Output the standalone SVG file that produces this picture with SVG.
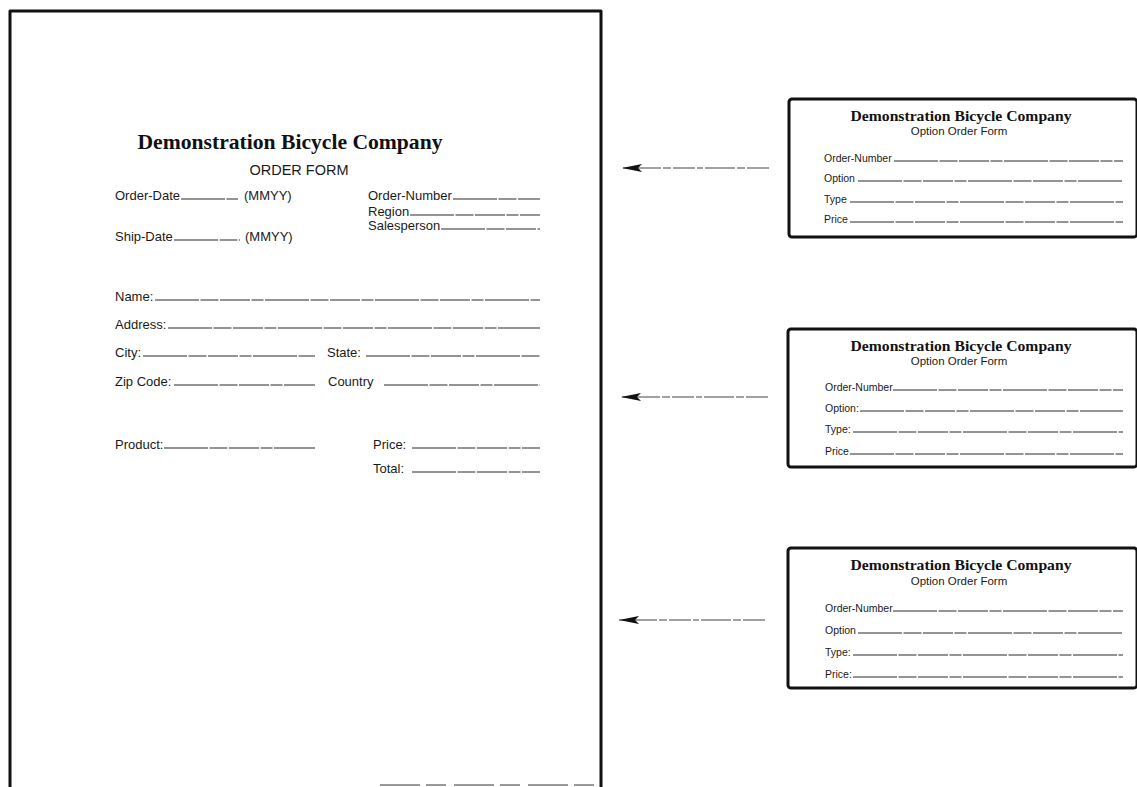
<svg xmlns="http://www.w3.org/2000/svg" width="1137" height="787" viewBox="0 0 1137 787">
<style>
.frame{fill:none;stroke:#111;stroke-width:3;stroke-linejoin:round}
.ttl{font-family:"Liberation Serif",serif;font-weight:bold;fill:#111;text-anchor:middle}
.sans{font-family:"Liberation Sans",Arial,sans-serif;fill:#1a1a1a}
.lbl{font-size:13px}
.blbl{font-size:10.5px}
.fld{stroke:#2a2a2a;stroke-width:1.1;stroke-dasharray:44 1.5 18 1.5 30 1.5 12 1.5}
.conn{stroke:#444;stroke-width:1.2;stroke-dasharray:22 2 8 2 30 2 6 2;fill:none}
</style>
<defs>
<marker id="ah" viewBox="0 0 20 8" refX="20" refY="4" markerWidth="20" markerHeight="8" markerUnits="userSpaceOnUse" orient="auto">
<path d="M0,0 L20,4 L0,8 L4,4 z" fill="#111"/>
</marker>
</defs>
<rect width="1137" height="787" fill="#fff"/>

<g id="order-form">
<path class="frame" d="M10,787 L10,11 L601,11 L601,787"/>
<line x1="380" y1="785" x2="601" y2="785" stroke="#999" stroke-width="2" stroke-dasharray="40 6 20 8"/>
<text class="ttl" x="290" y="149" font-size="21" textLength="305" lengthAdjust="spacingAndGlyphs">Demonstration Bicycle Company</text>
<text class="sans" x="299" y="175" font-size="14.5" text-anchor="middle">ORDER FORM</text>

<text class="sans lbl" x="115" y="200">Order-Date</text>
<line class="fld" x1="181" y1="199" x2="238" y2="199"/>
<text class="sans lbl" x="244" y="200">(MMYY)</text>
<text class="sans lbl" x="115" y="241">Ship-Date</text>
<line class="fld" x1="174" y1="240" x2="240" y2="240"/>
<text class="sans lbl" x="245" y="241">(MMYY)</text>

<text class="sans lbl" x="368" y="200">Order-Number</text>
<line class="fld" x1="453" y1="199" x2="540" y2="199"/>
<text class="sans lbl" x="368" y="216">Region</text>
<line class="fld" x1="410" y1="215" x2="540" y2="215"/>
<text class="sans lbl" x="368" y="230">Salesperson</text>
<line class="fld" x1="441" y1="229" x2="540" y2="229"/>

<text class="sans lbl" x="115" y="301">Name:</text>
<line class="fld" x1="155" y1="300" x2="540" y2="300"/>
<text class="sans lbl" x="115" y="329">Address:</text>
<line class="fld" x1="168" y1="328" x2="540" y2="328"/>
<text class="sans lbl" x="115" y="357">City:</text>
<line class="fld" x1="143" y1="356" x2="315" y2="356"/>
<text class="sans lbl" x="327" y="357">State:</text>
<line class="fld" x1="366" y1="356" x2="540" y2="356"/>
<text class="sans lbl" x="115" y="386">Zip Code:</text>
<line class="fld" x1="174" y1="385" x2="315" y2="385"/>
<text class="sans lbl" x="328" y="386">Country</text>
<line class="fld" x1="384" y1="385" x2="540" y2="385"/>

<text class="sans lbl" x="115" y="449">Product:</text>
<line class="fld" x1="164" y1="448" x2="315" y2="448"/>
<text class="sans lbl" x="373" y="449">Price:</text>
<line class="fld" x1="412" y1="448" x2="540" y2="448"/>
<text class="sans lbl" x="373" y="473">Total:</text>
<line class="fld" x1="412" y1="472" x2="540" y2="472"/>
</g>

<g id="option-form-1">
<rect class="frame" x="789" y="99" width="348" height="138" rx="3"/>
<text class="ttl" x="961" y="121" font-size="15" textLength="221" lengthAdjust="spacingAndGlyphs">Demonstration Bicycle Company</text>
<text class="sans" x="959" y="135" font-size="11.5" text-anchor="middle">Option Order Form</text>
<text class="sans blbl" x="824" y="162">Order-Number</text>
<line class="fld" x1="894" y1="161" x2="1123" y2="161"/>
<text class="sans blbl" x="824" y="182">Option</text>
<line class="fld" x1="858" y1="181" x2="1123" y2="181"/>
<text class="sans blbl" x="824" y="203">Type</text>
<line class="fld" x1="850" y1="202" x2="1123" y2="202"/>
<text class="sans blbl" x="824" y="223">Price</text>
<line class="fld" x1="850" y1="222" x2="1123" y2="222"/>
</g>

<g id="option-form-2">
<rect class="frame" x="788" y="329" width="349" height="138" rx="3"/>
<text class="ttl" x="961" y="351" font-size="15" textLength="221" lengthAdjust="spacingAndGlyphs">Demonstration Bicycle Company</text>
<text class="sans" x="959" y="365" font-size="11.5" text-anchor="middle">Option Order Form</text>
<text class="sans blbl" x="825" y="391">Order-Number</text>
<line class="fld" x1="893" y1="390" x2="1123" y2="390"/>
<text class="sans blbl" x="825" y="412">Option:</text>
<line class="fld" x1="860" y1="411" x2="1123" y2="411"/>
<text class="sans blbl" x="825" y="433">Type:</text>
<line class="fld" x1="853" y1="432" x2="1123" y2="432"/>
<text class="sans blbl" x="825" y="455">Price</text>
<line class="fld" x1="850" y1="454" x2="1123" y2="454"/>
</g>

<g id="option-form-3">
<rect class="frame" x="788" y="548" width="349" height="140" rx="3"/>
<text class="ttl" x="961" y="570" font-size="15" textLength="221" lengthAdjust="spacingAndGlyphs">Demonstration Bicycle Company</text>
<text class="sans" x="959" y="585" font-size="11.5" text-anchor="middle">Option Order Form</text>
<text class="sans blbl" x="825" y="612">Order-Number</text>
<line class="fld" x1="893" y1="611" x2="1123" y2="611"/>
<text class="sans blbl" x="825" y="634">Option</text>
<line class="fld" x1="858" y1="633" x2="1123" y2="633"/>
<text class="sans blbl" x="825" y="656">Type:</text>
<line class="fld" x1="853" y1="655" x2="1123" y2="655"/>
<text class="sans blbl" x="825" y="678">Price:</text>
<line class="fld" x1="853" y1="677" x2="1123" y2="677"/>
</g>

<g id="connectors">
<line class="conn" x1="769" y1="168" x2="622" y2="168" marker-end="url(#ah)"/>
<line class="conn" x1="768" y1="397" x2="621" y2="397" marker-end="url(#ah)"/>
<line class="conn" x1="765" y1="620" x2="619" y2="620" marker-end="url(#ah)"/>
</g>
</svg>
